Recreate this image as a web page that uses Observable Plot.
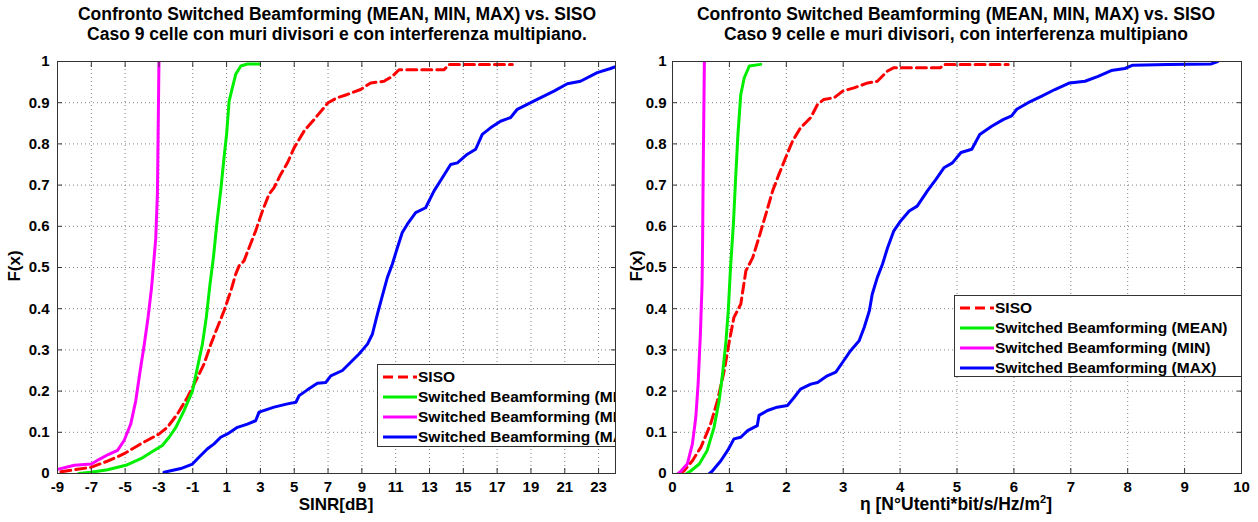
<!DOCTYPE html>
<html>
<head>
<meta charset="utf-8">
<script src="https://cdn.jsdelivr.net/npm/d3@7"></script>
<script src="https://cdn.jsdelivr.net/npm/@observablehq/plot@0.6"></script>
<style>
  html, body { margin: 0; padding: 0; background: #fff; }
  body { width: 1258px; height: 522px; position: relative; overflow: hidden; font-family: "Liberation Sans", Arial, sans-serif; }
  .title { position: absolute; text-align: center; font-size: 17.5px; font-weight: bold; line-height: 20px; color: #000; white-space: nowrap; }
  .xlabel { position: absolute; font-weight: bold; font-size: 17px; text-align: center; white-space: nowrap; }
  .ylabel { position: absolute; font-weight: bold; font-size: 17px; transform: rotate(-90deg); transform-origin: center; white-space: nowrap; }
  .clip { position: absolute; overflow: hidden; }
  .legend { position: absolute; background: #fff; border: 1px solid #333; white-space: nowrap; box-sizing: border-box; }
  .legrow { height: 20px; display: flex; align-items: center; font-weight: bold; font-size: 15.5px; }
  .legrow svg { flex: none; }
</style>
</head>
<body>
<script>
// ---------- data: left panel (SINR [dB]) ----------
const sinrTicks = [-9, -7, -5, -3, -1, 1, 3, 5, 7, 9, 11, 13, 15, 17, 19, 21, 23];
const fTicks = [0, 0.1, 0.2, 0.3, 0.4, 0.5, 0.6, 0.7, 0.8, 0.9, 1];

const sinrSisoX = [-8.8, -7.03, -6.04, -5.06, -4.07, -2.99, -2.5, -1.9, -1.31, -0.82, -0.33, 0.07, 0.46, 0.85, 1.25, 1.54, 1.74, 2.03, 2.33, 2.72, 3.12, 3.51, 3.81, 4.2, 4.6, 5.0, 5.58, 6.17, 6.76, 7.0, 7.55, 8.14, 8.93, 9.52, 10.31, 10.8, 11.2, 13.86, 14.15, 17.9];
const sinrSisoF = [0.004, 0.015, 0.03, 0.048, 0.072, 0.096, 0.112, 0.145, 0.185, 0.225, 0.266, 0.314, 0.355, 0.395, 0.443, 0.484, 0.504, 0.516, 0.548, 0.589, 0.637, 0.678, 0.694, 0.726, 0.754, 0.791, 0.831, 0.859, 0.888, 0.9, 0.912, 0.92, 0.932, 0.948, 0.952, 0.964, 0.98, 0.98, 0.993, 0.993];

const sinrMeanX = [-7.74, -7.03, -6.04, -4.96, -4.07, -3.29, -2.8, -2.4, -2.0, -1.51, -1.02, -0.72, -0.43, -0.2, 0.02, 0.22, 0.42, 0.65, 0.85, 1.0, 1.15, 1.34, 1.54, 1.84, 2.23, 2.96];
const sinrMeanF = [0.0, 0.003, 0.009, 0.02, 0.036, 0.056, 0.068, 0.088, 0.112, 0.153, 0.2, 0.258, 0.314, 0.379, 0.46, 0.524, 0.605, 0.686, 0.767, 0.823, 0.904, 0.936, 0.969, 0.989, 0.994, 0.994];

const sinrMinX = [-9, -8, -7, -6.5, -6, -5.45, -5.06, -4.67, -4.37, -4.11, -3.88, -3.64, -3.44, -3.19, -3.09, -3.05, -3.0];
const sinrMinF = [0.01, 0.02, 0.023, 0.035, 0.046, 0.056, 0.08, 0.12, 0.177, 0.25, 0.31, 0.38, 0.45, 0.57, 0.68, 0.82, 1.0];

const sinrMaxX = [-2.7, -1.71, -1.02, -0.62, -0.13, 0.26, 0.65, 1.05, 1.64, 2.23, 2.72, 2.92, 3.81, 4.6, 5.1, 5.29, 5.78, 6.37, 6.87, 7.16, 7.85, 8.34, 8.83, 9.33, 9.62, 9.92, 10.21, 10.51, 10.8, 11.1, 11.39, 11.69, 12.18, 12.77, 13.27, 13.76, 14.25, 14.65, 15.24, 15.73, 16.12, 16.61, 17.2, 17.8, 18.19, 18.78, 19.37, 20.36, 21.15, 21.93, 22.92, 23.71, 24.1];
const sinrMaxF = [0.003, 0.012, 0.023, 0.04, 0.06, 0.072, 0.088, 0.096, 0.112, 0.12, 0.128, 0.149, 0.161, 0.169, 0.173, 0.189, 0.203, 0.219, 0.221, 0.237, 0.25, 0.27, 0.29, 0.314, 0.338, 0.387, 0.431, 0.476, 0.508, 0.548, 0.585, 0.605, 0.633, 0.645, 0.686, 0.718, 0.75, 0.754, 0.775, 0.787, 0.823, 0.839, 0.855, 0.864, 0.884, 0.896, 0.908, 0.928, 0.946, 0.952, 0.973, 0.983, 0.989];

// ---------- data: right panel (eta) ----------
const etaTicks = [0, 1, 2, 3, 4, 5, 6, 7, 8, 9, 10];

const etaSisoX = [0.12, 0.2, 0.35, 0.5, 0.67, 0.79, 0.91, 1.0, 1.08, 1.2, 1.29, 1.41, 1.52, 1.64, 1.76, 1.87, 1.99, 2.11, 2.25, 2.43, 2.55, 2.66, 2.84, 2.99, 3.19, 3.43, 3.6, 3.78, 3.89, 4.71, 4.77, 5.9];
const etaSisoF = [0.0, 0.006, 0.031, 0.064, 0.12, 0.177, 0.25, 0.322, 0.379, 0.411, 0.492, 0.524, 0.573, 0.629, 0.686, 0.726, 0.767, 0.807, 0.839, 0.864, 0.896, 0.908, 0.912, 0.928, 0.936, 0.948, 0.952, 0.977, 0.985, 0.985, 0.993, 0.993];

const etaMeanX = [0.25, 0.32, 0.47, 0.61, 0.73, 0.82, 0.88, 0.94, 0.98, 1.02, 1.07, 1.11, 1.15, 1.2, 1.26, 1.35, 1.55];
const etaMeanF = [0.0, 0.006, 0.023, 0.056, 0.112, 0.177, 0.242, 0.322, 0.395, 0.5, 0.605, 0.718, 0.823, 0.92, 0.96, 0.989, 0.993];

const etaMinX = [0.1, 0.15, 0.26, 0.35, 0.41, 0.45, 0.49, 0.52, 0.53, 0.54, 0.56];
const etaMinF = [0.0, 0.006, 0.023, 0.072, 0.137, 0.217, 0.338, 0.46, 0.58, 0.742, 1.0];

const etaMaxX = [0.65, 0.7, 0.85, 0.97, 1.08, 1.2, 1.32, 1.49, 1.52, 1.67, 1.84, 2.02, 2.14, 2.25, 2.43, 2.55, 2.72, 2.87, 2.99, 3.13, 3.28, 3.37, 3.46, 3.51, 3.6, 3.69, 3.78, 3.89, 4.01, 4.16, 4.3, 4.48, 4.63, 4.77, 4.92, 5.07, 5.26, 5.4, 5.61, 5.81, 5.96, 6.05, 6.25, 6.49, 6.72, 6.98, 7.25, 7.48, 7.71, 7.95, 8.09, 8.71, 9.47, 9.58];
const etaMaxF = [0.0, 0.006, 0.031, 0.056, 0.084, 0.088, 0.104, 0.116, 0.141, 0.153, 0.161, 0.165, 0.185, 0.205, 0.217, 0.221, 0.237, 0.246, 0.27, 0.298, 0.322, 0.355, 0.395, 0.435, 0.476, 0.508, 0.548, 0.589, 0.613, 0.637, 0.649, 0.686, 0.714, 0.742, 0.754, 0.779, 0.787, 0.823, 0.843, 0.859, 0.868, 0.884, 0.9, 0.916, 0.932, 0.948, 0.952, 0.964, 0.978, 0.983, 0.991, 0.993, 0.994, 1.0];

// ---------- series / legend ----------
const seriesNames = ["SISO", "Switched Beamforming (MEAN)", "Switched Beamforming (MIN)", "Switched Beamforming (MAX)"];
const seriesColors = ["#ff0000", "#00ee00", "#ff00ff", "#0000ff"];
const seriesDash = ["10,5", null, null, null];

const leftTitle = ["Confronto Switched Beamforming (MEAN, MIN, MAX) vs. SISO", "Caso 9 celle con muri divisori e con interferenza multipiano."];
const rightTitle = ["Confronto Switched Beamforming (MEAN, MIN, MAX) vs. SISO", "Caso 9 celle e muri divisori, con interferenza multipiano"];

function rows(xs, fs) { return xs.map((x, i) => ({x, f: fs[i]})); }

const fmtF = d => String(+d.toFixed(1));

function panel({xDomain, xTicks, series, width, marginLeft, marginRight, yPad}) {
  const height = 472;
  const gridStyle = {stroke: "#555", strokeOpacity: 0.75, strokeDasharray: "1,3", strokeWidth: 1};
  const lineMarks = series.map((data, i) => Plot.line(data, {
    x: "x", y: "f", stroke: seriesColors[i], strokeWidth: 3,
    strokeDasharray: seriesDash[i] || undefined, clip: true
  }));
  return Plot.plot({
    width, height,
    marginLeft, marginRight, marginTop: 11, marginBottom: 49,
    x: {domain: xDomain, ticks: xTicks, label: null},
    y: {domain: [0, 1], ticks: fTicks, label: null},
    style: {fontFamily: "'Liberation Sans', Arial, sans-serif", fontWeight: "bold", fontSize: "15px", color: "#000", background: "transparent", overflow: "visible"},
    marks: [
      Plot.gridX(xTicks, gridStyle),
      Plot.gridY(fTicks, gridStyle),
      ...lineMarks,
      Plot.frame({stroke: "#333", strokeWidth: 1}),
      Plot.axisX(xTicks, {anchor: "bottom", tickSize: 0, tickPadding: 8, tickFormat: d => String(d), label: null}),
      Plot.axisX(xTicks, {anchor: "bottom", tickSize: -5, tickFormat: () => "", label: null, stroke: "#333"}),
      Plot.axisX(xTicks, {anchor: "top", tickSize: -5, tickFormat: () => "", label: null, stroke: "#333"}),
      Plot.axisY(fTicks, {anchor: "left", tickSize: 0, tickPadding: yPad, tickFormat: fmtF, label: null}),
      Plot.axisY(fTicks, {anchor: "left", tickSize: -5, tickFormat: () => "", label: null, stroke: "#333"}),
      Plot.axisY(fTicks, {anchor: "right", tickSize: -5, tickFormat: () => "", label: null, stroke: "#333"})
    ]
  });
}

function addTitle(lines, centerX) {
  const d = document.createElement("div");
  d.className = "title";
  d.style.left = (centerX - 330) + "px";
  d.style.width = "660px";
  d.style.top = "4px";
  d.innerHTML = lines.map(s => `<div>${s}</div>`).join("");
  document.body.appendChild(d);
}

function addLegend(clipBox, legBox) {
  const c = document.createElement("div");
  c.className = "clip";
  Object.assign(c.style, {left: clipBox.x + "px", top: clipBox.y + "px", width: clipBox.w + "px", height: clipBox.h + "px"});
  const L = document.createElement("div");
  L.className = "legend";
  Object.assign(L.style, {left: (legBox.x - clipBox.x) + "px", top: (legBox.y - clipBox.y) + "px", width: "300px", height: legBox.h + "px", paddingTop: "2px", paddingLeft: "4px"});
  seriesNames.forEach((name, i) => {
    const r = document.createElement("div");
    r.className = "legrow";
    r.innerHTML = `<svg width="36" height="20"><line x1="1" x2="35" y1="10" y2="10" stroke="${seriesColors[i]}" stroke-width="3" ${seriesDash[i] ? `stroke-dasharray="${seriesDash[i]}"` : ""}/></svg><span>${name}</span>`;
    L.appendChild(r);
  });
  c.appendChild(L);
  document.body.appendChild(c);
}

function addLabel(cls, html, style) {
  const d = document.createElement("div");
  d.className = cls;
  d.innerHTML = html;
  Object.assign(d.style, style);
  document.body.appendChild(d);
}

// ---------- left panel ----------
const left = panel({
  xDomain: [-9, 24], xTicks: sinrTicks, width: 629, marginLeft: 57, marginRight: 14, yPad: 8,
  series: [rows(sinrSisoX, sinrSisoF), rows(sinrMeanX, sinrMeanF), rows(sinrMinX, sinrMinF), rows(sinrMaxX, sinrMaxF)]
});
left.style.position = "absolute"; left.style.left = "0px"; left.style.top = "50px";
document.body.appendChild(left);

// ---------- right panel ----------
const right = panel({
  xDomain: [0, 10], xTicks: etaTicks, width: 629, marginLeft: 43, marginRight: 17, yPad: 6,
  series: [rows(etaSisoX, etaSisoF), rows(etaMeanX, etaMeanF), rows(etaMinX, etaMinF), rows(etaMaxX, etaMaxF)]
});
right.style.position = "absolute"; right.style.left = "629px"; right.style.top = "50px";
document.body.appendChild(right);

addTitle(leftTitle, 337);
addTitle(rightTitle, 956);

addLabel("xlabel", "SINR[dB]", {left: "236px", width: "200px", top: "495px"});
addLabel("xlabel", "η [N°Utenti*bit/s/Hz/m<sup style='font-size:11px'>2</sup>]", {left: "806px", width: "300px", top: "493px", fontSize: "17.5px"});
addLabel("ylabel", "F(x)", {left: "-5px", width: "40px", top: "256px", textAlign: "center"});
addLabel("ylabel", "F(x)", {left: "617px", width: "40px", top: "256px", textAlign: "center"});

addLegend({x: 57, y: 61, w: 558, h: 412}, {x: 377, y: 364, h: 83});
addLegend({x: 672, y: 61, w: 569, h: 412}, {x: 954, y: 295, h: 82});
</script>
</body>
</html>
